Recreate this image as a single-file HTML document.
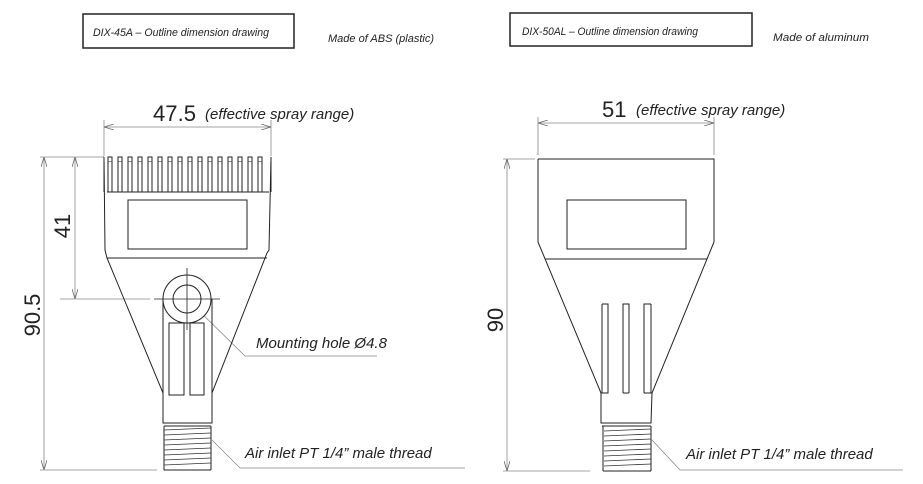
<!DOCTYPE html>
<html><head><meta charset="utf-8"><style>
html,body{margin:0;padding:0;background:#fff;width:923px;height:484px;overflow:hidden}
svg{display:block}
text{font-family:"Liberation Sans",sans-serif;fill:#222}
.it{font-style:italic}
</style></head><body>
<svg width="923" height="484" viewBox="0 0 923 484" xmlns="http://www.w3.org/2000/svg">
<defs>
<marker id="a" viewBox="0 0 10 6" refX="10" refY="3" markerWidth="10" markerHeight="6" orient="auto-start-reverse" markerUnits="userSpaceOnUse"><path d="M0,0 L10,3 L0,6" fill="none" stroke="#666" stroke-width="0.8"/></marker>
</defs>
<rect x="83" y="14" width="211" height="34" fill="none" stroke="#222" stroke-width="1.5"/>
<text x="93" y="36" font-size="11" class="it" textLength="176" lengthAdjust="spacingAndGlyphs">DIX-45A – Outline dimension drawing</text>
<text x="328" y="42" font-size="11" class="it" textLength="106" lengthAdjust="spacingAndGlyphs">Made of ABS (plastic)</text>
<rect x="510" y="13" width="242" height="33" fill="none" stroke="#222" stroke-width="1.5"/>
<text x="522" y="35" font-size="11" class="it" textLength="176" lengthAdjust="spacingAndGlyphs">DIX-50AL – Outline dimension drawing</text>
<text x="773" y="41" font-size="11" class="it" textLength="96" lengthAdjust="spacingAndGlyphs">Made of aluminum</text>

<g stroke="#888" stroke-width="0.8" fill="none">
<line x1="104" y1="120" x2="104" y2="157"/><line x1="271" y1="120" x2="271" y2="157"/>
<line x1="104" y1="127" x2="271" y2="127" marker-start="url(#a)" marker-end="url(#a)"/>
<line x1="40" y1="157" x2="104" y2="157"/>
<line x1="44" y1="157" x2="44" y2="470" marker-start="url(#a)" marker-end="url(#a)"/>
<line x1="75" y1="157" x2="75" y2="299" marker-start="url(#a)" marker-end="url(#a)"/>
<line x1="60" y1="299" x2="150" y2="299"/>
<line x1="40" y1="470" x2="157" y2="470"/>
<polyline points="190,302 245,356 377,356"/>
<polyline points="212,440 240,468 465,468"/>
<line x1="538" y1="117" x2="538" y2="155"/><line x1="714" y1="117" x2="714" y2="155"/>
<line x1="538" y1="123" x2="714" y2="123" marker-start="url(#a)" marker-end="url(#a)"/>
<line x1="503" y1="159" x2="535" y2="159"/>
<line x1="507" y1="159" x2="507" y2="471" marker-start="url(#a)" marker-end="url(#a)"/>
<line x1="503" y1="471" x2="590" y2="471"/>
<polyline points="652,440 680,470 903,470"/>
</g>

<g stroke="#222" stroke-width="1" fill="none">
<polyline points="104,157 105,250 107,258 163,393 163,423 212,423 212,393 267,253 269,250 271,157"/>
<line x1="107" y1="258" x2="267" y2="258"/>
<rect x="128" y="200" width="119" height="49"/>
<line x1="107" y1="192" x2="269" y2="192"/>
<line x1="163" y1="299" x2="163" y2="393"/><line x1="212" y1="299" x2="212" y2="393"/>
<circle cx="187" cy="299" r="24" fill="#fff"/>
<circle cx="187" cy="299" r="14"/>
<rect x="169" y="323" width="15" height="72"/><rect x="190" y="323" width="14" height="72"/>
<line x1="164" y1="426" x2="211" y2="426"/>
<line x1="164" y1="426" x2="164" y2="470"/><line x1="211" y1="426" x2="211" y2="470"/>
<line x1="164" y1="470" x2="211" y2="470"/>
</g>
<g stroke="#222" stroke-width="0.8">
<line x1="154" y1="299" x2="220" y2="299"/><line x1="187" y1="268" x2="187" y2="330"/>
</g>
<g stroke="#333" stroke-width="0.8">
<line x1="164" y1="430" x2="211" y2="428"/><line x1="164" y1="435" x2="211" y2="433"/><line x1="164" y1="440" x2="211" y2="438"/><line x1="164" y1="445" x2="211" y2="443"/><line x1="164" y1="450" x2="211" y2="448"/><line x1="164" y1="455" x2="211" y2="453"/><line x1="164" y1="460" x2="211" y2="458"/><line x1="164" y1="465" x2="211" y2="463"/>
<line x1="604" y1="431" x2="651" y2="429"/><line x1="604" y1="436" x2="651" y2="434"/><line x1="604" y1="441" x2="651" y2="439"/><line x1="604" y1="446" x2="651" y2="444"/><line x1="604" y1="451" x2="651" y2="449"/><line x1="604" y1="456" x2="651" y2="454"/><line x1="604" y1="461" x2="651" y2="459"/><line x1="604" y1="466" x2="651" y2="464"/>
</g>
<g stroke="#222" stroke-width="1" fill="#fff">
<rect x="108" y="161" width="4" height="31"/><rect x="118" y="161" width="4" height="31"/><rect x="128" y="161" width="4" height="31"/><rect x="138" y="161" width="4" height="31"/><rect x="148" y="161" width="4" height="31"/><rect x="158" y="161" width="4" height="31"/><rect x="168" y="161" width="4" height="31"/><rect x="178" y="161" width="4" height="31"/><rect x="188" y="161" width="4" height="31"/><rect x="198" y="161" width="4" height="31"/><rect x="208" y="161" width="4" height="31"/><rect x="218" y="161" width="4" height="31"/><rect x="228" y="161" width="4" height="31"/><rect x="238" y="161" width="4" height="31"/><rect x="248" y="161" width="4" height="31"/><rect x="258" y="161" width="4" height="31"/>
</g>
<rect x="104" y="156" width="168" height="5" fill="#fff"/>
<g stroke="#222" stroke-width="1" fill="none">
<path d="M104,157 V192 M271,157 V192"/>
<path d="M108,161 V157 H112 V161 M118,161 V157 H122 V161 M128,161 V157 H132 V161 M138,161 V157 H142 V161 M148,161 V157 H152 V161 M158,161 V157 H162 V161 M168,161 V157 H172 V161 M178,161 V157 H182 V161 M188,161 V157 H192 V161 M198,161 V157 H202 V161 M208,161 V157 H212 V161 M218,161 V157 H222 V161 M228,161 V157 H232 V161 M238,161 V157 H242 V161 M248,161 V157 H252 V161 M258,161 V157 H262 V161"/>
</g>

<g stroke="#222" stroke-width="1" fill="none">
<polyline points="538,159 714,159 714,242 652,393 651,423 601,423 601,393 538,242 538,159"/>
<line x1="545" y1="259" x2="707" y2="259"/>
<rect x="567" y="200" width="119" height="49"/>
<path d="M601,393 H608 V304 H602 M623,393 V304 H629 V393 M644,393 V304 H651 M623,393 H629 M644,393 H652"/>
<path d="M602,304 V393 M651,304 V393"/>
<line x1="602" y1="426" x2="651" y2="426"/>
<line x1="603" y1="426" x2="603" y2="471"/><line x1="651" y1="426" x2="651" y2="471"/>
<line x1="603" y1="471" x2="651" y2="471"/>
</g>

<text x="153" y="121" font-size="22" textLength="43" lengthAdjust="spacingAndGlyphs">47.5</text>
<text x="205" y="119" font-size="15" class="it">(effective spray range)</text>
<text transform="translate(70,226) rotate(-90)" font-size="22" text-anchor="middle">41</text>
<text transform="translate(40,315) rotate(-90)" font-size="22" text-anchor="middle">90.5</text>
<text x="256" y="348" font-size="15" class="it">Mounting hole Ø4.8</text>
<text x="245" y="458" font-size="15" class="it">Air inlet PT 1/4” male thread</text>
<text x="602" y="117" font-size="22">51</text>
<text x="636" y="115" font-size="15" class="it">(effective spray range)</text>
<text transform="translate(503,320) rotate(-90)" font-size="22" text-anchor="middle">90</text>
<text x="686" y="459" font-size="15" class="it">Air inlet PT 1/4” male thread</text>
</svg>
</body></html>
